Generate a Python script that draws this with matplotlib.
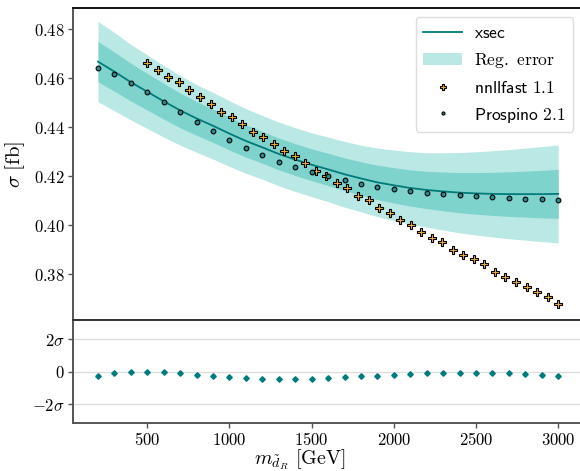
import numpy as np
import matplotlib
matplotlib.use("Agg")
import matplotlib.pyplot as plt

plt.rcParams['mathtext.fontset'] = 'cm'
plt.rcParams['font.family'] = 'DejaVu Sans'

# ---- data ----
mass = [200, 300, 400, 500, 600, 700, 800, 900, 1000, 1100, 1200, 1300, 1400, 1500,
        1600, 1700, 1800, 1900, 2000, 2100, 2200, 2300, 2400, 2500, 2600, 2700,
        2800, 2900, 3000]
xsec = [0.4667, 0.4626, 0.4583, 0.4544, 0.4505, 0.4468, 0.4435, 0.4405, 0.4373,
        0.4343, 0.4317, 0.4290, 0.4267, 0.4246, 0.4227, 0.4207, 0.4190, 0.4174,
        0.4162, 0.4151, 0.4143, 0.4137, 0.4132, 0.4129, 0.4127, 0.4126, 0.4126,
        0.4126, 0.4127]
sigma = [0.0082, 0.0080, 0.0077, 0.0075, 0.0073, 0.0071, 0.0069, 0.0068, 0.0067,
         0.0066, 0.0065, 0.0065, 0.0065, 0.0065, 0.0066, 0.0067, 0.0068, 0.0070,
         0.0072, 0.0074, 0.0076, 0.0079, 0.0082, 0.0085, 0.0088, 0.0091, 0.0094,
         0.0097, 0.0100]
prospino = [0.4642, 0.4616, 0.4581, 0.4544, 0.4503, 0.4462, 0.4422, 0.4385, 0.4348,
            0.4316, 0.4286, 0.4258, 0.4235, 0.4215, 0.4199, 0.4182, 0.4169, 0.4156,
            0.4148, 0.4139, 0.4132, 0.4128, 0.4122, 0.4118, 0.4114, 0.4111, 0.4107,
            0.4106, 0.4103]
pull = [-0.31, -0.12, -0.02, 0.0, -0.02, -0.08, -0.19, -0.29, -0.37, -0.43, -0.47,
        -0.49, -0.49, -0.47, -0.43, -0.37, -0.31, -0.27, -0.21, -0.16, -0.12, -0.10,
        -0.08, -0.08, -0.08, -0.10, -0.14, -0.19, -0.25]

nll_mass = [500, 564, 628, 692, 756, 821, 885, 949, 1013, 1077, 1141, 1205, 1269,
            1333, 1397, 1462, 1526, 1590, 1654, 1718, 1782, 1846, 1910, 1974, 2038,
            2103, 2167, 2231, 2295, 2359, 2423, 2487, 2551, 2615, 2679, 2744, 2808,
            2872, 2936, 3000]
nll_xsec = [0.4662, 0.4634, 0.4603, 0.4582, 0.4552, 0.4522, 0.4494, 0.4462, 0.4442,
            0.4412, 0.4381, 0.4360, 0.4332, 0.4301, 0.4280, 0.4252, 0.4220, 0.4201,
            0.4170, 0.4150, 0.4120, 0.4101, 0.4071, 0.4050, 0.4019, 0.4000, 0.3970,
            0.3948, 0.3929, 0.3899, 0.3879, 0.3860, 0.3840, 0.3808, 0.3789, 0.3767,
            0.3748, 0.3728, 0.3707, 0.3678]

main_yticks = [0.38, 0.40, 0.42, 0.44, 0.46, 0.48]
main_yticklabels = [r'$0.38$', r'$0.40$', r'$0.42$', r'$0.44$', r'$0.46$', r'$0.48$']
ratio_yticks = [-2, 0, 2]
ratio_yticklabels = [r'$-2\sigma$', r'$0$', r'$2\sigma$']
xticks = [500, 1000, 1500, 2000, 2500, 3000]
xticklabels = [r'$500$', r'$1000$', r'$1500$', r'$2000$', r'$2500$', r'$3000$']

# ---- styles ----
c_line = '#007b7b'
c_outer = '#bae8e4'
c_inner = '#7ed4cc'
c_nll = '#f2b233'
c_pros = '#1f8f8f'
spine_c = '#555555'

W, H = 580, 471
fig = plt.figure(figsize=(W / 100, H / 100), dpi=100)
left = 72.7 / W
right = 581.5 / W
ax = fig.add_axes([left, 1 - 320 / H, right - left, (320 - 8) / H])
axr = fig.add_axes([left, 1 - 423 / H, right - left, (423 - 320) / H], sharex=ax)

m = np.array(mass)
xs = np.array(xsec)
sg = np.array(sigma)

ax.fill_between(m, xs - 2 * sg, xs + 2 * sg, color=c_outer, lw=0, zorder=1,
                label=r'$\mathrm{Reg.\ error}$')
ax.fill_between(m, xs - sg, xs + sg, color=c_inner, lw=0, zorder=1.1)
ax.plot(m, xs, color=c_line, lw=1.3, zorder=2, label=r'$\mathsf{xsec}$')
ax.plot(nll_mass, nll_xsec, ls='none', marker='P', ms=6.3, mfc=c_nll, mec='black',
        mew=0.8, zorder=3, label=r'$\mathsf{nnllfast\ 1.1}$')
ax.plot(m, prospino, ls='none', marker='o', ms=3.4, mfc=c_pros, mec='black',
        mew=0.8, zorder=4, label=r'$\mathsf{Prospino\ 2.1}$')

ax.set_xlim(46, 3142)
ax.set_ylim(0.3612, 0.4886)
ax.set_yticks(main_yticks)
ax.set_yticklabels(main_yticklabels, fontsize=12)
ax.tick_params(axis='x', which='both', bottom=False, labelbottom=False)
ax.tick_params(axis='y', length=3.5, width=1, color=spine_c, pad=2)
ax.set_ylabel(r'$\sigma\ [\mathrm{fb}]$', fontsize=15)
ax.yaxis.set_label_coords(-0.09, 0.5)
for s in ax.spines.values():
    s.set_color(spine_c)
    s.set_linewidth(1.4)
ax.spines['top'].set_color('#111111')
ax.spines['bottom'].set_color('#333333')

handles, labels = ax.get_legend_handles_labels()
order = [1, 0, 2, 3]
leg = ax.legend([handles[i] for i in order], [labels[i] for i in order],
                loc='upper right', bbox_to_anchor=(573 / W, 1 - 17.3 / H),
                bbox_transform=fig.transFigure, borderaxespad=0, fontsize=12.6,
                markerscale=0.65, frameon=True, fancybox=True, framealpha=1,
                edgecolor='#dddddd', handlelength=2.25, handletextpad=0.7,
                labelspacing=0.5, borderpad=0.4)

for yv in ratio_yticks:
    axr.axhline(yv, color='#dddddd', lw=1, zorder=0)
axr.plot(m, pull, ls='none', marker='D', ms=2.8, mfc=c_line, mec=c_line, zorder=3)
axr.set_ylim(-3.2, 3.2)
axr.set_yticks(ratio_yticks)
axr.set_yticklabels(ratio_yticklabels, fontsize=12)
axr.set_xticks(xticks)
axr.set_xticklabels(xticklabels, fontsize=12)
axr.tick_params(axis='both', length=3.5, width=1, color=spine_c, pad=2)
axr.set_xlabel(r'$m_{\tilde{d}_R}\ [\mathrm{GeV}]$', fontsize=14.5)
axr.xaxis.set_label_coords((300 - 72.7) / (581.5 - 72.7), -0.232)
for s in axr.spines.values():
    s.set_color(spine_c)
    s.set_linewidth(1.4)
axr.spines['top'].set_color('#333333')

fig.savefig('out.png', dpi=100)
